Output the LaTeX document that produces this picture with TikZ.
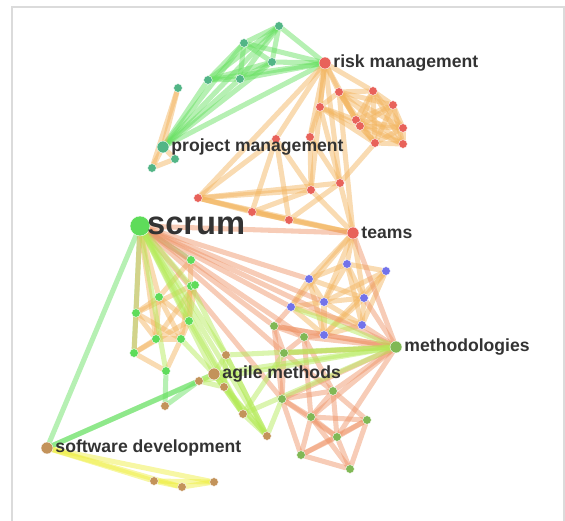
\documentclass[tikz,border=0pt]{standalone}
\usepackage{fontspec}
\setmainfont{Liberation Sans}
\usetikzlibrary{backgrounds,positioning}
\definecolor{cTeal}{HTML}{52B586}
\definecolor{cRed}{HTML}{E8625A}
\definecolor{cLime}{HTML}{5EDC5A}
\definecolor{cBlue}{HTML}{7272EA}
\definecolor{cOlive}{HTML}{80B855}
\definecolor{cBrown}{HTML}{C3935A}
\definecolor{eGreen}{HTML}{66E060}
\definecolor{eOrange}{HTML}{F2B45E}
\definecolor{eSalmon}{HTML}{EE9468}
\definecolor{eLime}{HTML}{B4EA58}
\definecolor{eYellow}{HTML}{EEEE40}
\definecolor{txt}{HTML}{333333}
\tikzset{
  dot/.style={circle,inner sep=0pt,minimum size=6.5pt,draw=white,line width=0.3pt},
  hub/.style={dot,minimum size=9pt},
  dotT/.style={dot,fill=cTeal}, dotR/.style={dot,fill=cRed}, dotG/.style={dot,fill=cLime},
  dotB/.style={dot,fill=cBlue}, dotO/.style={dot,fill=cOlive}, dotW/.style={dot,fill=cBrown},
  lnk/.style={line width=3.8pt,draw opacity=0.48,line cap=round},
  lbl/.style={inner sep=0pt,anchor=west,text=txt,font=\fontsize{13.2}{15}\selectfont\bfseries}
}
\begin{document}
\begin{tikzpicture}[x=0.75pt,y=-0.75pt]
\useasboundingbox (0,0) rectangle (565,521);
\draw[black!14,line width=1.4pt] (12,530) -- (12,7) -- (564,7) -- (564,530);
% nodes
\node[dotT] (g1) at (279,26) {}; \node[dotT] (g2) at (244,43) {}; \node[dotT] (g3) at (272,62) {};
\node[dotT] (g4) at (208,80) {}; \node[dotT] (g5) at (240,79) {}; \node[dotT] (g6) at (178,88) {};
\node[dotT] (g7) at (175,159) {}; \node[dotT] (g8) at (152,168) {};
\node[dotT,hub] (pm) at (163,147) {};
\node[dotR,hub] (risk) at (325,63) {};
\node[dotR] (r1) at (339,92) {}; \node[dotR] (r2) at (373,91) {}; \node[dotR] (r3) at (393,105) {};
\node[dotR] (r4) at (320,107) {}; \node[dotR] (r5) at (356,120) {}; \node[dotR] (r6) at (360,126) {};
\node[dotR] (r7) at (403,128) {}; \node[dotR] (r8) at (375,143) {}; \node[dotR] (r9) at (403,144) {};
\node[dotR] (r10) at (310,137) {}; \node[dotR] (r11) at (276,139) {}; \node[dotR] (r12) at (340,183) {};
\node[dotR] (r13) at (311,190) {}; \node[dotR] (r14) at (198,198) {}; \node[dotR] (r15) at (252,212) {};
\node[dotR] (r16) at (289,220) {};
\node[dotR,hub] (teams) at (353,233) {};
\node[dotG,minimum size=15pt] (scrum) at (140,226) {};
\node[dotG] (s1) at (191,260) {}; \node[dotG] (s2) at (191,286) {}; \node[dotG] (s3) at (195,285) {};
\node[dotG] (s4) at (159,297) {}; \node[dotG] (s5) at (136,313) {}; \node[dotG] (s6) at (189,321) {};
\node[dotG] (s7) at (156,339) {}; \node[dotG] (s8) at (181,339) {}; \node[dotG] (s9) at (134,353) {};
\node[dotG] (s10) at (166,371) {};
\node[dotB] (b1) at (347,264) {}; \node[dotB] (b2) at (386,271) {}; \node[dotB] (b3) at (309,279) {};
\node[dotB] (b4) at (364,298) {}; \node[dotB] (b5) at (324,302) {}; \node[dotB] (b6) at (291,307) {};
\node[dotB] (b7) at (362,325) {}; \node[dotB] (b8) at (324,335) {};
\node[dotO] (o1) at (274,326) {}; \node[dotO] (o2) at (304,337) {}; \node[dotO] (o3) at (284,353) {};
\node[dotO] (o4) at (333,391) {}; \node[dotO] (o5) at (282,399) {}; \node[dotO] (o6) at (311,417) {};
\node[dotO] (o7) at (367,420) {}; \node[dotO] (o8) at (337,437) {}; \node[dotO] (o9) at (301,455) {};
\node[dotO] (o10) at (350,469) {};
\node[dotO,hub] (meth) at (396,347) {};
\node[dotW] (a1) at (226,355) {}; \node[dotW] (a2) at (199,381) {}; \node[dotW] (a3) at (224,387) {};
\node[dotW] (a4) at (165,406) {}; \node[dotW] (a5) at (243,414) {}; \node[dotW] (a6) at (267,436) {};
\node[dotW] (w1) at (154,481) {}; \node[dotW] (w2) at (182,487) {}; \node[dotW] (w3) at (214,482) {};
\node[dotW,hub] (agile) at (214,374) {};
\node[dotW,hub] (sw) at (47,448) {};
% links
\begin{scope}[on background layer]
\foreach \a/\b in {risk/g1,risk/g2,risk/g3,risk/g4,risk/g5,pm/risk,pm/g1,pm/g2,pm/g3,pm/g4,pm/g5,
  g1/g2,g1/g3,g1/g4,g1/g5,g2/g3,g2/g4,g2/g5,g3/g4,g3/g5,g4/g5,scrum/sw,scrum/s9,sw/agile,sw/a2,a2/a4,s10/a4,scrum/s1}
  \draw[lnk,eGreen] (\a) -- (\b);
\foreach \a/\b in {g6/pm,g6/g8,pm/g8,g7/g8,pm/g7,
  risk/r1,risk/r2,risk/r4,risk/r5,risk/r10,risk/r11,risk/r12,risk/r13,risk/r14,r1/teams,
  r1/r2,r1/r3,r1/r4,r1/r5,r1/r6,r1/r7,r1/r8,r1/r9,r2/r3,r2/r5,r2/r6,r2/r7,r2/r8,r2/r9,
  r3/r5,r3/r6,r3/r7,r3/r8,r3/r9,r4/r5,r4/r6,r4/r8,r4/r10,r5/r7,r5/r8,r5/r9,r6/r7,r6/r8,r6/r9,
  r7/r8,r7/r9,r8/r9,r4/r12,r10/r13,r10/r12,r11/r14,r11/r13,r11/r16,r14/r15,r14/r16,r14/r13,
  r14/r12,r14/teams,r15/r16,r15/r13,r15/teams,r16/teams,r16/r12,r13/teams,r12/teams,r15/r11,r8/r12,
  scrum/s4,scrum/s5,scrum/s7,s1/s4,s1/s6,s2/s5,s3/s7,s4/s5,s4/s6,s4/s8,s5/s7,s5/s9,s6/s8,s6/s9,
  s7/s8,s7/s9,s8/s10,s9/s10,s2/s8,s3/s6,s4/s7,s5/s8,
  teams/b1,teams/b3,teams/b4,teams/b6,teams/b5,b1/b2,b1/b3,b1/b4,b1/b5,b1/b7,b2/b4,b2/b5,b2/b7,
  b3/b5,b3/b6,b3/b8,b4/b5,b4/b7,b4/b8,b5/b6,b5/b7,b5/b8,b6/b8,b7/b8,b2/b8,b6/b7,b3/b4}
  \draw[lnk,eOrange] (\a) -- (\b);
\foreach \a/\b in {scrum/teams,scrum/b3,scrum/b6,scrum/o1,scrum/o2,scrum/o3,scrum/meth,scrum/o5,scrum/b5,
  teams/meth,meth/o1,meth/o2,meth/o3,meth/o4,meth/o5,meth/o6,meth/o8,meth/b7,meth/b8,meth/b4,
  o1/o2,o1/o3,o1/o5,o1/b6,o1/b8,o2/o3,o2/b8,o2/o4,o3/o5,o3/o4,o4/o5,o4/o6,o4/o7,o4/o8,o5/o6,
  o5/o9,o6/o7,o6/o8,o6/o9,o6/o10,o7/o8,o7/o9,o8/o9,o8/o10,o9/o10,o7/o10,o5/o8,o2/o6}
  \draw[lnk,eSalmon] (\a) -- (\b);
\foreach \a/\b in {scrum/s2,scrum/s6,scrum/s10,scrum/a5,scrum/a6,scrum/a1,scrum/agile,
  agile/a1,agile/a2,agile/a3,agile/a5,agile/a6,a1/a3,a2/a3,a3/a5,a3/a6,a5/a6,a1/a6,
  agile/meth,a1/meth,o3/meth,a2/meth,a5/meth,b6/meth,a6/o5,a5/o3,s6/a5,s8/agile,s2/a6}
  \draw[lnk,eLime] (\a) -- (\b);
\foreach \a/\b in {sw/w1,sw/w2,sw/w3,w1/w2,w2/w3,w1/w3}
  \draw[lnk,eYellow] (\a) -- (\b);
\end{scope}
% labels
\node[lbl,right=1.5pt of risk] (riskL) {risk management};
\node[lbl,right=1.5pt of pm] (pmL) {project management};
\node[lbl,right=-2.5pt of scrum,font=\fontsize{24.5}{28}\selectfont\bfseries] (scrumL) {scrum};
\node[lbl,right=1.5pt of teams] (teamsL) {teams};
\node[lbl,right=1.5pt of meth] (methL) {methodologies};
\node[lbl,right=1.5pt of agile] (agileL) {agile methods};
\node[lbl,right=1.5pt of sw] (swL) {software development};
\end{tikzpicture}
\end{document}
